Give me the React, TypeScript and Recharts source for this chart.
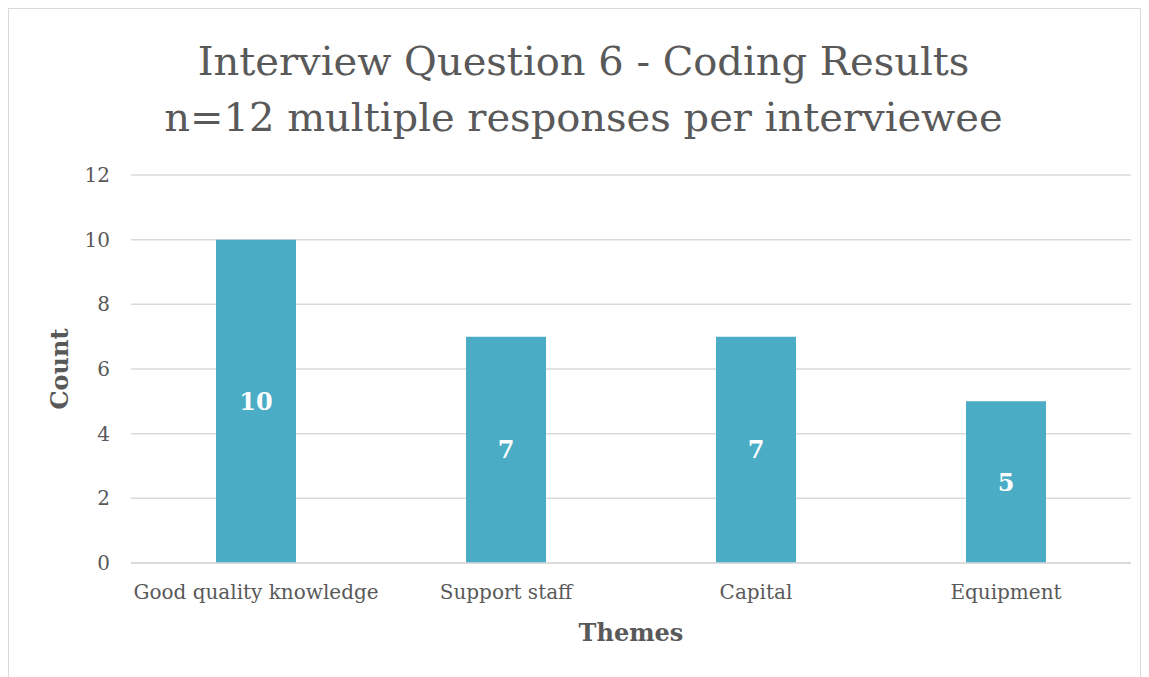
import React from 'react';
import { BarChart, Bar, XAxis, YAxis, CartesianGrid, LabelList, Label } from 'recharts';

// Interview Question 6 coding results, n=12
const themes = ['Good quality knowledge', 'Support staff', 'Capital', 'Equipment'];
const counts = [10, 7, 7, 5];
const yTicks = [0, 2, 4, 6, 8, 10, 12];

const FONT = '"DejaVu Serif", serif';
const TEXT = '#595959';

const data = themes.map((t, i) => ({ theme: t, count: counts[i] }));

export default function App() {
  return (
    <div
      style={{
        position: 'relative',
        width: 1131,
        height: 672,
        border: '1px solid #d9d9d9',
        background: '#fff',
        fontFamily: FONT,
      }}
    >
      <div
        style={{
          position: 'absolute',
          left: 18,
          right: 0,
          top: 24,
          textAlign: 'center',
          color: TEXT,
          fontSize: 40,
          lineHeight: '56px',
        }}
      >
        Interview Question 6 - Coding Results
        <br />
        n=12 multiple responses per interviewee
      </div>
      <BarChart
        width={1131}
        height={670}
        data={data}
        barCategoryGap="34%"
        margin={{ top: 166, right: 9, left: 62, bottom: 86 }}
      >
        <CartesianGrid vertical={false} stroke="#d9d9d9" strokeWidth={1.5} />
        <XAxis
          dataKey="theme"
          axisLine={{ stroke: '#d9d9d9', strokeWidth: 1.5 }}
          tickLine={false}
          height={30}
          tick={{ fill: TEXT, fontSize: 20, fontFamily: FONT }}
          tickMargin={16}
        >
          <Label
            value="Themes"
            position="insideBottom"
            offset={-48}
            style={{ fill: TEXT, fontSize: 24, fontWeight: 700, fontFamily: FONT }}
          />
        </XAxis>
        <YAxis
          domain={[0, 12]}
          ticks={yTicks}
          axisLine={false}
          tickLine={false}
          width={60}
          tick={{ fill: TEXT, fontSize: 20, fontFamily: FONT }}
          tickMargin={15}
        >
          <Label
            value="Count"
            angle={-90}
            position="insideLeft"
            offset={-12}
            style={{ fill: TEXT, fontSize: 24, fontWeight: 700, fontFamily: FONT, textAnchor: 'middle' }}
          />
        </YAxis>
        <Bar dataKey="count" fill="#4bacc6" isAnimationActive={false}>
          <LabelList
            dataKey="count"
            position="center"
            style={{ fill: '#fff', fontSize: 24, fontWeight: 700, fontFamily: FONT }}
          />
        </Bar>
      </BarChart>
    </div>
  );
}
